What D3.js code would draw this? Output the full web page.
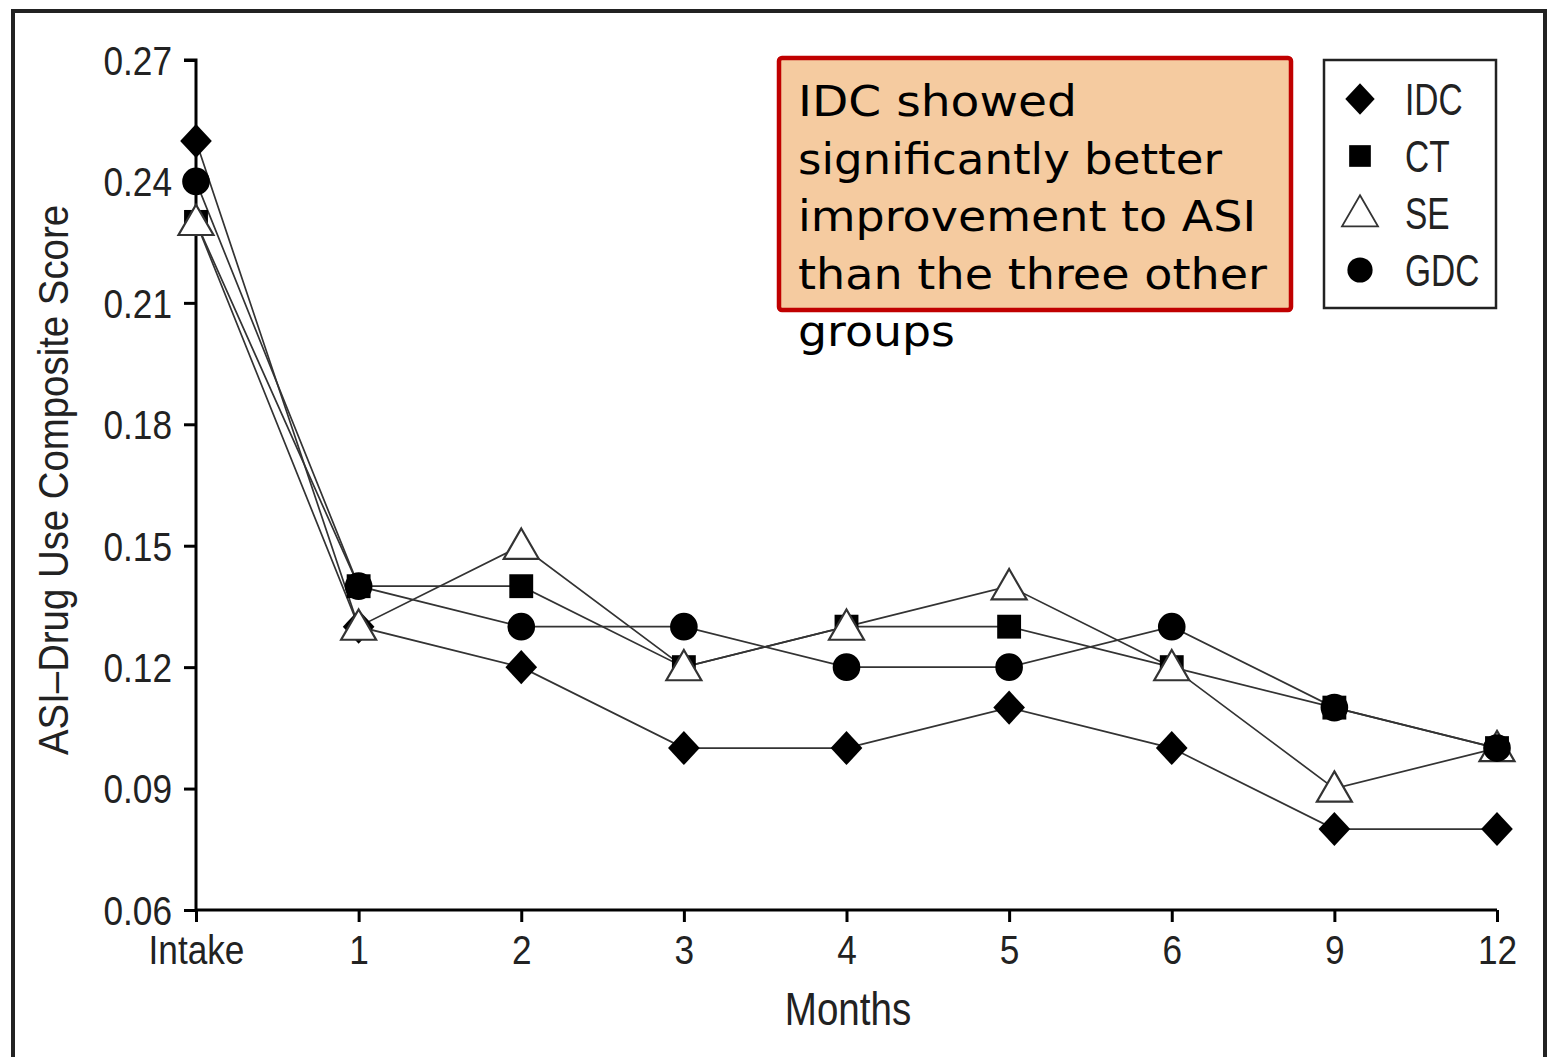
<!DOCTYPE html>
<html>
<head>
<meta charset="utf-8">
<script src="https://cdn.jsdelivr.net/npm/d3@7"></script>
<style>
  html, body { margin: 0; padding: 0; background: #fff; }
  svg { display: block; }
  text.narrow { font-family: "Liberation Sans", Arial, sans-serif; }
</style>
</head>
<body>
<svg id="chart" width="1548" height="1057"></svg>
<script>
// ---- data ----
const categories = ["Intake", "1", "2", "3", "4", "5", "6", "9", "12"];
const seriesNames = ["IDC", "CT", "SE", "GDC"];
const idcValues = [0.25, 0.13, 0.12, 0.10, 0.10, 0.11, 0.10, 0.08, 0.08];
const ctValues  = [0.23, 0.14, 0.14, 0.12, 0.13, 0.13, 0.12, 0.11, 0.10];
const seValues  = [0.23, 0.13, 0.15, 0.12, 0.13, 0.14, 0.12, 0.09, 0.10];
const gdcValues = [0.24, 0.14, 0.13, 0.13, 0.12, 0.12, 0.13, 0.11, 0.10];
const yTicks = [0.06, 0.09, 0.12, 0.15, 0.18, 0.21, 0.24, 0.27];
const yTitle = "ASI\u2013Drug Use Composite Score";
const xTitle = "Months";
const noteLines = ["IDC showed", "significantly better", "improvement to ASI", "than the three other", "groups"];

// layout-only: rendered widths of the note lines
const noteLineWidths = [279, 424, 458, 469, 157];

const diamond = { draw(ctx, size) { const r = Math.sqrt(size / 2); ctx.moveTo(0, -r); ctx.lineTo(r * 0.93, 0); ctx.lineTo(0, r); ctx.lineTo(-r * 0.93, 0); ctx.closePath(); } };

const series = [
  { name: "IDC", values: idcValues, symbol: diamond, size: 580, fill: "#000", stroke: "none", dy: 0 },
  { name: "CT",  values: ctValues,  symbol: d3.symbolSquare,  size: 570, fill: "#000", stroke: "none", dy: 0 },
  { name: "SE",  values: seValues,  symbol: d3.symbolTriangle, size: 530, fill: "#fff", stroke: "#333", dy: 3 },
  { name: "GDC", values: gdcValues, symbol: d3.symbolCircle,  size: 600, fill: "#000", stroke: "none", dy: 0 }
];

const svg = d3.select("#chart");

function condense(sel, f) {
  sel.each(function () {
    const w = this.getComputedTextLength();
    d3.select(this).attr("textLength", w * f).attr("lengthAdjust", "spacingAndGlyphs");
  });
}

// outer frame
svg.append("rect")
  .attr("x", 13).attr("y", 11).attr("width", 1532).attr("height", 1080)
  .attr("fill", "none").attr("stroke", "#222").attr("stroke-width", 4);

const x = d3.scalePoint().domain(categories).range([196, 1497]);
const y = d3.scaleLinear().domain([0.06, 0.27]).range([910, 60]);

// y axis
const yAxis = svg.append("g")
  .attr("transform", "translate(196,0)")
  .call(d3.axisLeft(y).tickValues(yTicks).tickFormat(d3.format(".2f")).tickSize(12).tickPadding(12));
yAxis.select(".domain").attr("stroke", "#000").attr("stroke-width", 3).attr("d", "M-12,60H0V910");
yAxis.selectAll(".tick line").attr("stroke", "#000").attr("stroke-width", 3);
yAxis.selectAll(".tick text").attr("class", "narrow").attr("font-size", 40).attr("fill", "#222").attr("dy", "0.36em");
condense(yAxis.selectAll(".tick text"), 0.88);

// x axis
const xAxis = svg.append("g")
  .attr("transform", "translate(0,910)")
  .call(d3.axisBottom(x).tickSize(12).tickPadding(14));
xAxis.select(".domain").attr("stroke", "#000").attr("stroke-width", 3).attr("d", "M196,0H1497");
xAxis.selectAll(".tick line").attr("stroke", "#000").attr("stroke-width", 3);
xAxis.selectAll(".tick text").attr("class", "narrow").attr("font-size", 40).attr("fill", "#222").attr("dy", "0.71em");
condense(xAxis.selectAll(".tick text"), 0.88);

// titles
const yt = svg.append("text").attr("class", "narrow")
  .attr("transform", "translate(68,480) rotate(-90)")
  .attr("text-anchor", "middle").attr("font-size", 42).attr("fill", "#222")
  .text(yTitle);
yt.attr("textLength", 550).attr("lengthAdjust", "spacingAndGlyphs");
const xt = svg.append("text").attr("class", "narrow")
  .attr("x", 848).attr("y", 1025)
  .attr("text-anchor", "middle").attr("font-size", 47).attr("fill", "#222")
  .text(xTitle);
condense(xt, 0.82);

// lines
const line = d3.line().x((d, i) => x(categories[i])).y(d => y(d));
series.forEach(s => {
  svg.append("path").datum(s.values)
    .attr("d", line).attr("fill", "none")
    .attr("stroke", "#333").attr("stroke-width", 1.7);
});

// markers (drawn IDC, CT, SE, GDC so circles sit on top)
series.forEach(s => {
  const sym = d3.symbol().type(s.symbol).size(s.size);
  svg.append("g").selectAll("path").data(s.values).join("path")
    .attr("d", sym)
    .attr("transform", (d, i) => `translate(${x(categories[i])},${y(d) + s.dy})`)
    .attr("fill", s.fill)
    .attr("stroke", s.stroke)
    .attr("stroke-width", s.stroke === "none" ? 0 : 2.2);
});

// legend
const lg = svg.append("g");
lg.append("rect").attr("x", 1324).attr("y", 60).attr("width", 172).attr("height", 248)
  .attr("fill", "#fff").attr("stroke", "#222").attr("stroke-width", 2.5);
const legendSizes = [500, 470, 560, 500];
series.forEach((s, i) => {
  const cy = 99 + i * 57;
  lg.append("path")
    .attr("d", d3.symbol().type(s.symbol).size(legendSizes[i])())
    .attr("transform", `translate(1360,${cy + s.dy})`)
    .attr("fill", s.fill).attr("stroke", s.stroke).attr("stroke-width", s.stroke === "none" ? 0 : 1.8);
  const t = lg.append("text").attr("class", "narrow")
    .attr("x", 1405).attr("y", cy).attr("dy", "0.36em")
    .attr("font-size", 44).attr("fill", "#222")
    .text(seriesNames[i]);
  condense(t, 0.76);
});

// annotation box
svg.append("rect")
  .attr("x", 779).attr("y", 58).attr("width", 512).attr("height", 252)
  .attr("rx", 3)
  .attr("fill", "#F5CBA0").attr("stroke", "#C00000").attr("stroke-width", 4.5);
const note = svg.append("text")
  .attr("font-family", "'DejaVu Sans', 'Noto Sans', sans-serif")
  .attr("font-size", 43).attr("fill", "#000");
noteLines.forEach((t, i) => {
  note.append("tspan").attr("x", 798).attr("y", 116 + i * 57.5)
    .attr("textLength", noteLineWidths[i]).attr("lengthAdjust", "spacingAndGlyphs")
    .text(t);
});
</script>
</body>
</html>
